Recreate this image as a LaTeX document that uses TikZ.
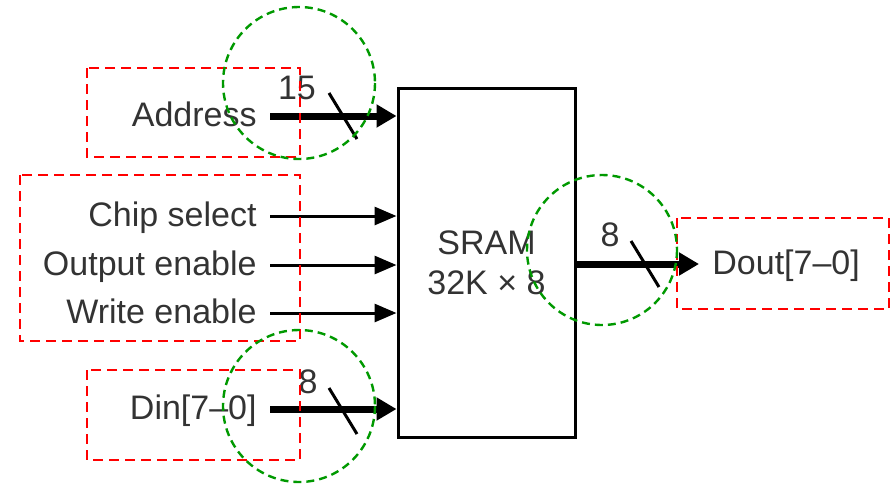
\documentclass[tikz,border=0pt]{standalone}
\usepackage{fontspec}
\setmainfont{Liberation Sans}
\usetikzlibrary{arrows.meta,positioning}

\begin{document}
\begin{tikzpicture}[x=0.5pt, y=-0.5pt,
  font=\fontsize{17}{20}\selectfont,
  lbl/.style={text=black!80, inner xsep=6.5pt, inner ysep=0pt, text height=12pt, text depth=2pt},
  width/.style={text=black!80, inner sep=0pt},
  sig/.style={-{Triangle[length=11pt,width=9pt]}, line width=1.5pt},
  bus/.style={-{Triangle[length=10pt,width=11pt]}, line width=3.5pt},
  slash/.style={line width=1.5pt},
  grp/.style={draw=red, dash pattern=on 5pt off 3pt, line width=1.2pt},
  ring/.style={draw=green!60!black, dash pattern=on 4pt off 2.5pt, line width=1.2pt}]
  \useasboundingbox (0,0) rectangle (894,483);
  \node[draw, line width=1.5pt, minimum width=88.5pt, minimum height=174.5pt, align=center, text=black!80] (sram) at (486.5,262.5) {SRAM\\32K × 8};
  \node[lbl, anchor=east] (addr) at (270,116) {Address};
  \node[lbl, anchor=east] (cs) at (270,216) {Chip select};
  \node[lbl, anchor=east] (oe) at (270,265) {Output enable};
  \node[lbl, anchor=east] (we) at (270,313) {Write enable};
  \node[lbl, anchor=east] (din) at (270,409) {Din[7–0]};
  \node[lbl, anchor=west] (dout) at (699,264) {Dout[7–0]};
  % signals into and out of the memory
  \draw[bus] (addr.east) -- (addr.east -| sram.west);
  \draw[sig] (cs.east) -- (cs.east -| sram.west);
  \draw[sig] (oe.east) -- (oe.east -| sram.west);
  \draw[sig] (we.east) -- (we.east -| sram.west);
  \draw[bus] (din.east) -- (din.east -| sram.west);
  \draw[bus] (sram.east |- dout.west) -- (dout.west);
  % bus width marks
  \coordinate (s1) at (343,116);
  \coordinate (s2) at (343,411);
  \coordinate (s3) at (645,264);
  \foreach \s in {s1,s2,s3}
    \draw[slash] ([shift={(-14,-23)}]\s) -- ([shift={(14,23)}]\s);
  \node[width] (w1) at (297,88) {15};
  \node[width] (w2) at (308,382) {8};
  \node[width] (w3) at (610,235) {8};
  % highlights
  \draw[grp] (87,68) rectangle (300,157);
  \draw[grp] (20,175) rectangle (300,341);
  \draw[grp] (87,370) rectangle (300,460);
  \draw[grp] (677,218) rectangle (889,309);
  \draw[ring] (299,83) circle[radius=76];
  \draw[ring] (602,250) circle[radius=75];
  \draw[ring] (299,406) circle[radius=76];
\end{tikzpicture}
\end{document}
